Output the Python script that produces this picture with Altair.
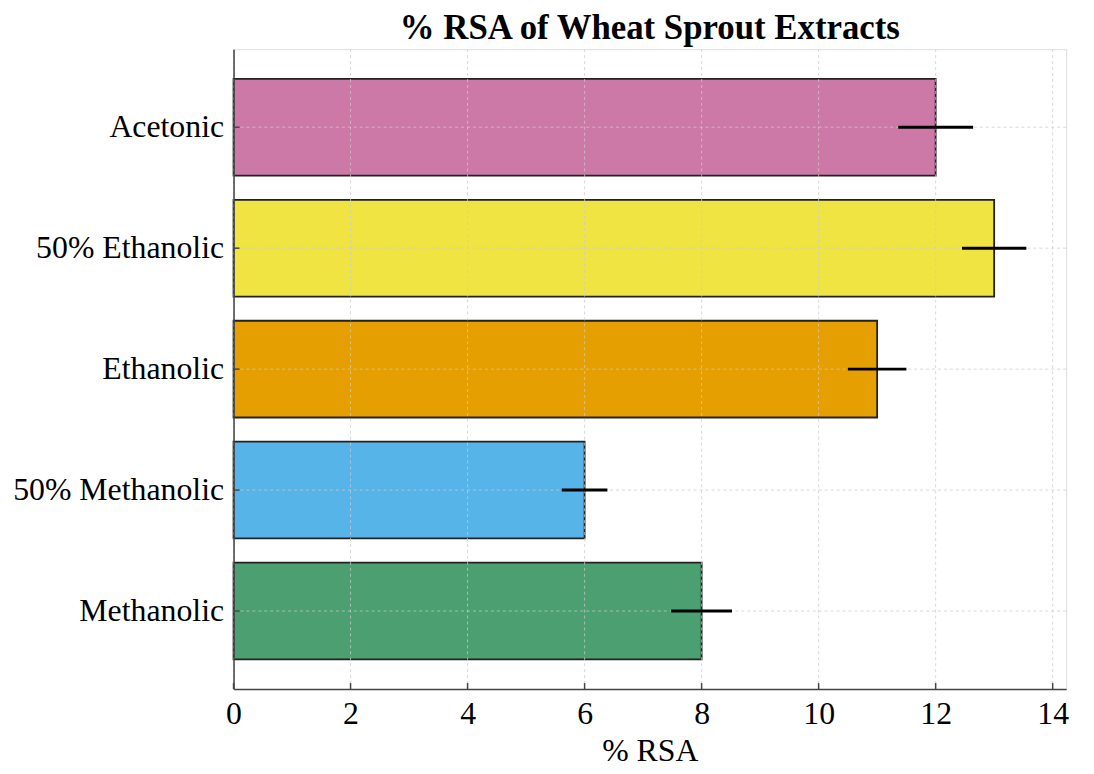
import altair as alt
import pandas as pd

categories = ["Acetonic", "50% Ethanolic", "Ethanolic", "50% Methanolic", "Methanolic"]
values = [12.0, 13.0, 11.0, 6.0, 8.0]
errors = [0.64, 0.55, 0.50, 0.39, 0.52]
colors = ["#CC79A7", "#F0E442", "#E69F00", "#56B4E9", "#4C9F70"]
x_ticks = [0, 2, 4, 6, 8, 10, 12, 14]

df = pd.DataFrame({
    "cat": categories,
    "val": values,
    "lo": [v - e for v, e in zip(values, errors)],
    "hi": [v + e for v, e in zip(values, errors)],
})
ticks_df = pd.DataFrame({"t": x_ticks})

W, H = 838, 644
FONT = "Liberation Serif"

xscale = alt.Scale(domain=[0, 14.23], nice=False, zero=True)
yscale = alt.Scale(domain=categories, paddingInner=0.2, paddingOuter=0.245)

xaxis = alt.Axis(values=x_ticks, title="% RSA", grid=False, labelFlush=False,
                 tickSize=0, labelPadding=10, labelFontSize=32, labelFont=FONT,
                 labelColor="black", titleFont=FONT, titleFontSize=32,
                 titleFontWeight="normal", titleColor="black", titlePadding=6,
                 domainColor="#444444", domainWidth=1.5, zindex=1, format="d")
yaxis = alt.Axis(title=None, grid=False, tickSize=0, labelPadding=10,
                 labelFontSize=32, labelFont=FONT, labelColor="black", labelLimit=0,
                 domainColor="#444444", domainWidth=1.5, zindex=1)

bars = alt.Chart(df).mark_bar(stroke="#222222", strokeWidth=1.8).encode(
    x=alt.X("val:Q", scale=xscale, axis=xaxis),
    y=alt.Y("cat:N", scale=yscale, axis=yaxis, sort=categories),
    color=alt.Color("cat:N", scale=alt.Scale(domain=categories, range=colors), legend=None),
)

vgrid = alt.Chart(ticks_df).mark_rule(color="#cccccc", strokeWidth=1, strokeDash=[3, 3],
                                      opacity=0.75).encode(
    x=alt.X("t:Q", scale=xscale),
)
hgrid = alt.Chart(df).mark_rule(color="#cccccc", strokeWidth=1, strokeDash=[3, 3],
                                opacity=0.75).encode(
    y=alt.Y("cat:N", scale=yscale, sort=categories),
)

err = alt.Chart(df).mark_rule(color="black", strokeWidth=3).encode(
    x=alt.X("lo:Q", scale=xscale),
    x2="hi:Q",
    y=alt.Y("cat:N", scale=yscale, sort=categories),
)

ytick = alt.Chart(df).mark_rule(color="#444444", strokeWidth=1.5).encode(
    y=alt.Y("cat:N", scale=yscale, sort=categories),
    x=alt.value(0),
    x2=alt.value(6),
)

xtick = alt.Chart(ticks_df).mark_rule(color="#444444", strokeWidth=1.5).encode(
    x=alt.X("t:Q", scale=xscale),
    y=alt.value(H - 6),
    y2=alt.value(H),
)

chart = alt.layer(bars, vgrid, hgrid, err, ytick, xtick).properties(
    width=W,
    height=H,
    title=alt.TitleParams("% RSA of Wheat Sprout Extracts", font=FONT, fontSize=35,
                          fontWeight="bold", color="black", anchor="middle",
                          offset=3),
    autosize=alt.AutoSizeParams(type="none"),
    padding={"left": 227, "top": 39, "right": 20, "bottom": 78},
).configure_view(stroke=None).configure(background="white")

chart.save("out.html", embed_options={"renderer": "svg", "actions": False})
